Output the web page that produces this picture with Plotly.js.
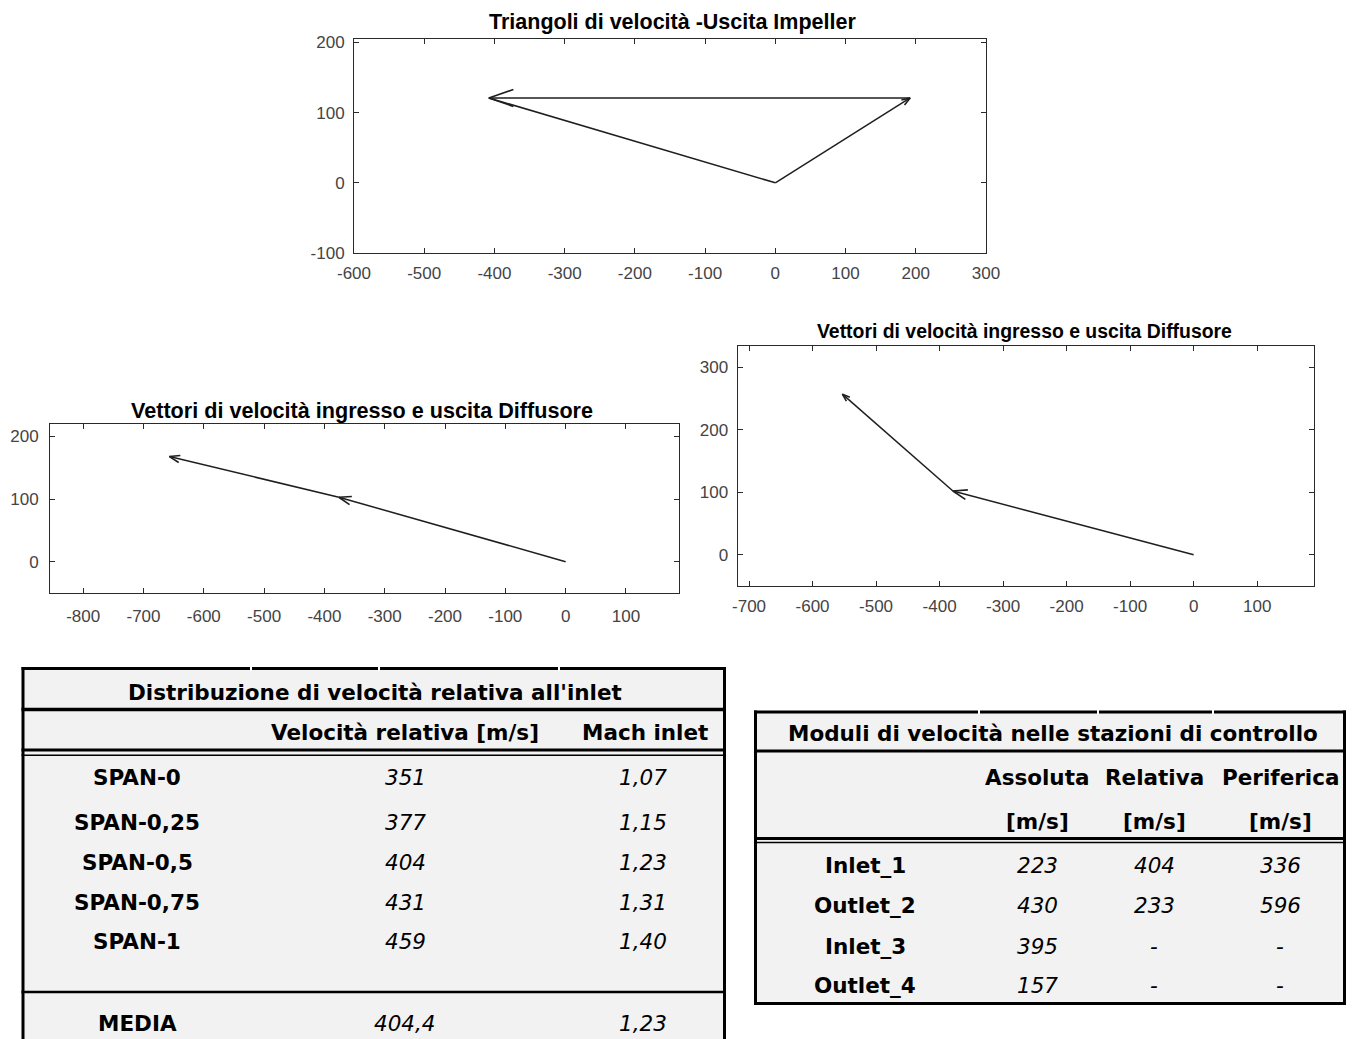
<!DOCTYPE html>
<html><head><meta charset="utf-8">
<script src="https://cdn.plot.ly/plotly-3.0.1.min.js"></script>
<style>html,body{margin:0;padding:0;background:#fff}#chart{width:1352px;height:1039px}</style>
</head><body><div id="chart"></div>
<script>
// ---------------- DATA ----------------
// Impeller outlet velocity triangle: W2 (relative), U2 (peripheral), C2 (absolute)
const impTailX = [0, 192, 0];
const impTailY = [0, 121, 0];
const impTipX  = [192, -408, -408];
const impTipY  = [121, 121, 121];

// Diffuser inlet/outlet velocity vectors (left plot)
const difATailX = [0, -376];
const difATailY = [0, 103];
const difATipX  = [-376, -657];
const difATipY  = [103, 168];

// Diffuser inlet/outlet velocity vectors (right plot)
const difBTailX = [0, -379];
const difBTailY = [0, 102];
const difBTipX  = [-379, -553];
const difBTipY  = [102, 257];

// Tick labels
const p1XTicks = [-600, -500, -400, -300, -200, -100, 0, 100, 200, 300];
const p1YTicks = [-100, 0, 100, 200];
const p2XTicks = [-800, -700, -600, -500, -400, -300, -200, -100, 0, 100];
const p2YTicks = [0, 100, 200];
const p3XTicks = [-700, -600, -500, -400, -300, -200, -100, 0, 100];
const p3YTicks = [0, 100, 200, 300];

// Plot titles
const plotTitles = ['Triangoli di velocità -Uscita Impeller',
                    'Vettori di velocità ingresso e uscita Diffusore',
                    'Vettori di velocità ingresso e uscita Diffusore'];

// Table 1
const t1Title = "Distribuzione di velocità relativa all'inlet";
const t1Headers = ['Velocità relativa [m/s]', 'Mach inlet'];
const t1Rows = ['SPAN-0', 'SPAN-0,25', 'SPAN-0,5', 'SPAN-0,75', 'SPAN-1'];
const t1Vel  = [351, 377, 404, 431, 459];
const t1Mach = [1.07, 1.15, 1.23, 1.31, 1.40];
const t1MeanLabel = 'MEDIA';
const t1MeanVel = 404.4;
const t1MeanMach = 1.23;

// Table 2
const t2Title = 'Moduli di velocità nelle stazioni di controllo';
const t2Headers = ['Assoluta', 'Relativa', 'Periferica'];
const t2Units = ['[m/s]', '[m/s]', '[m/s]'];
const t2Rows = ['Inlet_1', 'Outlet_2', 'Inlet_3', 'Outlet_4'];
const t2Abs = [223, 430, 395, 157];
const t2Rel = [404, 233, null, null];
const t2Per = [336, 596, null, null];

// ---------------- LAYOUT / STYLE ----------------
const W = 1352, H = 1039;
const X = p => p / W;
const Y = p => 1 - p / H;
const fmt = (v, d) => v === null ? '-' : v.toFixed(d).replace('.', ',');

const INK = '#1e1e1e';
const AX = '#2a2a2a';
const tickFont = {family: 'Liberation Sans, Arial, sans-serif', size: 17, color: '#444'};
const titleFontFam = 'Liberation Sans, Arial, sans-serif';
const tabFam = 'DejaVu Sans, Verdana, sans-serif';
const tabSize = 21.5;

// axes boxes in pixels
const geo = {
  p1: {l: 354, r: 986, t: 39, b: 253, xr: [-600, 300], yr: [-100, 205]},
  p2: {l: 50, r: 679, t: 424, b: 593, xr: [-855, 188], yr: [-50, 220]},
  p3: {l: 737.6, r: 1313.7, t: 346, b: 586, xr: [-718, 189], yr: [-50, 334]}
};
// arrow-head lengths (px) and half-angle
const HEAD_ANG = 19 * Math.PI / 180;

function vecTraces(tx, ty, hx, hy, heads, g, xa, ya) {
  const kx = (g.r - g.l) / (g.xr[1] - g.xr[0]);
  const ky = (g.b - g.t) / (g.yr[1] - g.yr[0]);
  const out = [];
  tx.forEach((_, i) => {
    out.push({
      type: 'scatter', mode: 'lines', x: [tx[i], hx[i]], y: [ty[i], hy[i]],
      xaxis: xa, yaxis: ya, line: {color: INK, width: 1.5},
      hoverinfo: 'skip', showlegend: false
    });
    const L = heads[i];
    if (L > 0) {
      const dx = (hx[i] - tx[i]) * kx, dy = (hy[i] - ty[i]) * ky;
      const n = Math.hypot(dx, dy), ux = dx / n, uy = dy / n;
      const c = Math.cos(HEAD_ANG), s = Math.sin(HEAD_ANG);
      const b1x = ux * c - uy * s, b1y = ux * s + uy * c;
      const b2x = ux * c + uy * s, b2y = -ux * s + uy * c;
      out.push({
        type: 'scatter', mode: 'lines',
        x: [hx[i] - L * b1x / kx, hx[i], hx[i] - L * b2x / kx],
        y: [hy[i] - L * b1y / ky, hy[i], hy[i] - L * b2y / ky],
        xaxis: xa, yaxis: ya, line: {color: INK, width: 1.6},
        hoverinfo: 'skip', showlegend: false
      });
    }
  });
  return out;
}

const traces = [].concat(
  vecTraces(impTailX, impTailY, impTipX, impTipY, [9, 26, 0], geo.p1, 'x', 'y'),
  vecTraces(difATailX, difATailY, difATipX, difATipY, [13, 11], geo.p2, 'x2', 'y2'),
  vecTraces(difBTailX, difBTailY, difBTipX, difBTipY, [15, 8], geo.p3, 'x3', 'y3')
);

function axis(extra, ticks) {
  return Object.assign({
    showline: true, mirror: 'ticks', linecolor: AX, linewidth: 1,
    ticks: 'inside', ticklen: 5, tickwidth: 1, tickcolor: AX,
    showgrid: false, zeroline: false, tickfont: tickFont,
    tickmode: 'array', tickvals: ticks, ticktext: ticks.map(String), fixedrange: true
  }, extra);
}
const xdom = g => [X(g.l), X(g.r)];
const ydom = g => [Y(g.b), Y(g.t)];

const layout = {
  width: W, height: H, margin: {l: 0, r: 0, t: 0, b: 0},
  paper_bgcolor: '#fff', plot_bgcolor: '#fff', showlegend: false,
  xaxis:  axis({domain: xdom(geo.p1), range: geo.p1.xr, anchor: 'y', ticklabelstandoff: 5}, p1XTicks),
  yaxis:  axis({domain: ydom(geo.p1), range: geo.p1.yr, anchor: 'x', ticklabelstandoff: 5}, p1YTicks),
  xaxis2: axis({domain: xdom(geo.p2), range: geo.p2.xr, anchor: 'y2', ticklabelstandoff: 8}, p2XTicks),
  yaxis2: axis({domain: ydom(geo.p2), range: geo.p2.yr, anchor: 'x2', ticklabelstandoff: 7}, p2YTicks),
  xaxis3: axis({domain: xdom(geo.p3), range: geo.p3.xr, anchor: 'y3', ticklabelstandoff: 5}, p3XTicks),
  yaxis3: axis({domain: ydom(geo.p3), range: geo.p3.yr, anchor: 'x3', ticklabelstandoff: 5}, p3YTicks),
  shapes: [], annotations: []
};

function txt(text, px, py, opts) {
  layout.annotations.push(Object.assign({
    text: text, x: X(px), y: Y(py), xref: 'paper', yref: 'paper',
    xanchor: 'center', yanchor: 'middle', showarrow: false,
    font: {family: tabFam, size: tabSize, color: '#000'}
  }, opts || {}));
}
function hline(y, x0, x1, w, c) {
  layout.shapes.push({type: 'line', xref: 'paper', yref: 'paper',
    x0: X(x0), x1: X(x1), y0: Y(y), y1: Y(y), line: {color: c || '#000', width: w}});
}
function vline(x, y0, y1, w, c) {
  layout.shapes.push({type: 'line', xref: 'paper', yref: 'paper',
    x0: X(x), x1: X(x), y0: Y(y0), y1: Y(y1), line: {color: c || '#000', width: w}});
}
function rect(x0, y0, x1, y1, fill) {
  layout.shapes.push({type: 'rect', xref: 'paper', yref: 'paper', layer: 'below',
    x0: X(x0), x1: X(x1), y0: Y(y1), y1: Y(y0), fillcolor: fill, line: {width: 0}});
}

const bold = s => '<b>' + s + '</b>';
const ital = s => '<i>' + s + '</i>';

// plot titles
txt(bold(plotTitles[0]), 672, 22.5, {font: {family: titleFontFam, size: 21.5, color: '#000'}});
txt(bold(plotTitles[1]), 362, 410, {font: {family: titleFontFam, size: 21.6, color: '#000'}});
txt(bold(plotTitles[2]), 1024, 331, {font: {family: titleFontFam, size: 19.4, color: '#000'}});

// ---- Table 1 ----
rect(22, 668, 726, 1045, '#f2f2f2');
hline(668.5, 21.5, 726, 3);
hline(709.5, 21.5, 726, 3.5);
hline(750, 21.5, 726, 3);
hline(755.3, 21.5, 726, 1.5);
hline(992, 21.5, 726, 2.5);
vline(23, 667, 1045, 3);
vline(724.5, 667, 1045, 3);
[251, 379, 559].forEach(x => vline(x, 665, 671, 2, '#fff'));

const t1ColX = [137, 405, 643];
const t1RowY = [777, 822, 862, 902, 941];
txt(bold(t1Title), 375, 692);
txt(bold(t1Headers[0]), 405, 732);
txt(bold(t1Headers[1]), 645, 732);
t1Rows.forEach((r, i) => {
  txt(bold(r), t1ColX[0], t1RowY[i]);
  txt(ital(fmt(t1Vel[i], 0)), t1ColX[1], t1RowY[i]);
  txt(ital(fmt(t1Mach[i], 2)), t1ColX[2], t1RowY[i]);
});
txt(bold(t1MeanLabel), t1ColX[0], 1023);
txt(ital(fmt(t1MeanVel, 1)), t1ColX[1], 1023);
txt(ital(fmt(t1MeanMach, 2)), t1ColX[2], 1023);

// ---- Table 2 ----
rect(754, 711, 1346, 1005, '#f2f2f2');
hline(712, 754, 1346, 3);
hline(751, 754, 1346, 3);
hline(838.5, 754, 1346, 3);
hline(842.6, 754, 1346, 1.5);
hline(1003.5, 754, 1346, 3);
vline(755.5, 710.5, 1005, 3);
vline(1344.5, 710.5, 1005, 3);
[979, 1098, 1213].forEach(x => vline(x, 709, 714, 2, '#fff'));

const t2ColX = [865, 1037, 1154, 1280];
const t2RowY = [865, 905, 946, 985];
txt(bold(t2Title), 1053, 733);
t2Headers.forEach((h, j) => {
  txt(bold(h), t2ColX[j + 1], 777);
  txt(bold(t2Units[j]), t2ColX[j + 1], 821);
});
t2Rows.forEach((r, i) => {
  txt(bold(r), t2ColX[0], t2RowY[i]);
  txt(ital(fmt(t2Abs[i], 0)), t2ColX[1], t2RowY[i]);
  txt(ital(fmt(t2Rel[i], 0)), t2ColX[2], t2RowY[i]);
  txt(ital(fmt(t2Per[i], 0)), t2ColX[3], t2RowY[i]);
});

Plotly.newPlot('chart', traces, layout, {staticPlot: true, displayModeBar: false});
</script>
</body></html>
